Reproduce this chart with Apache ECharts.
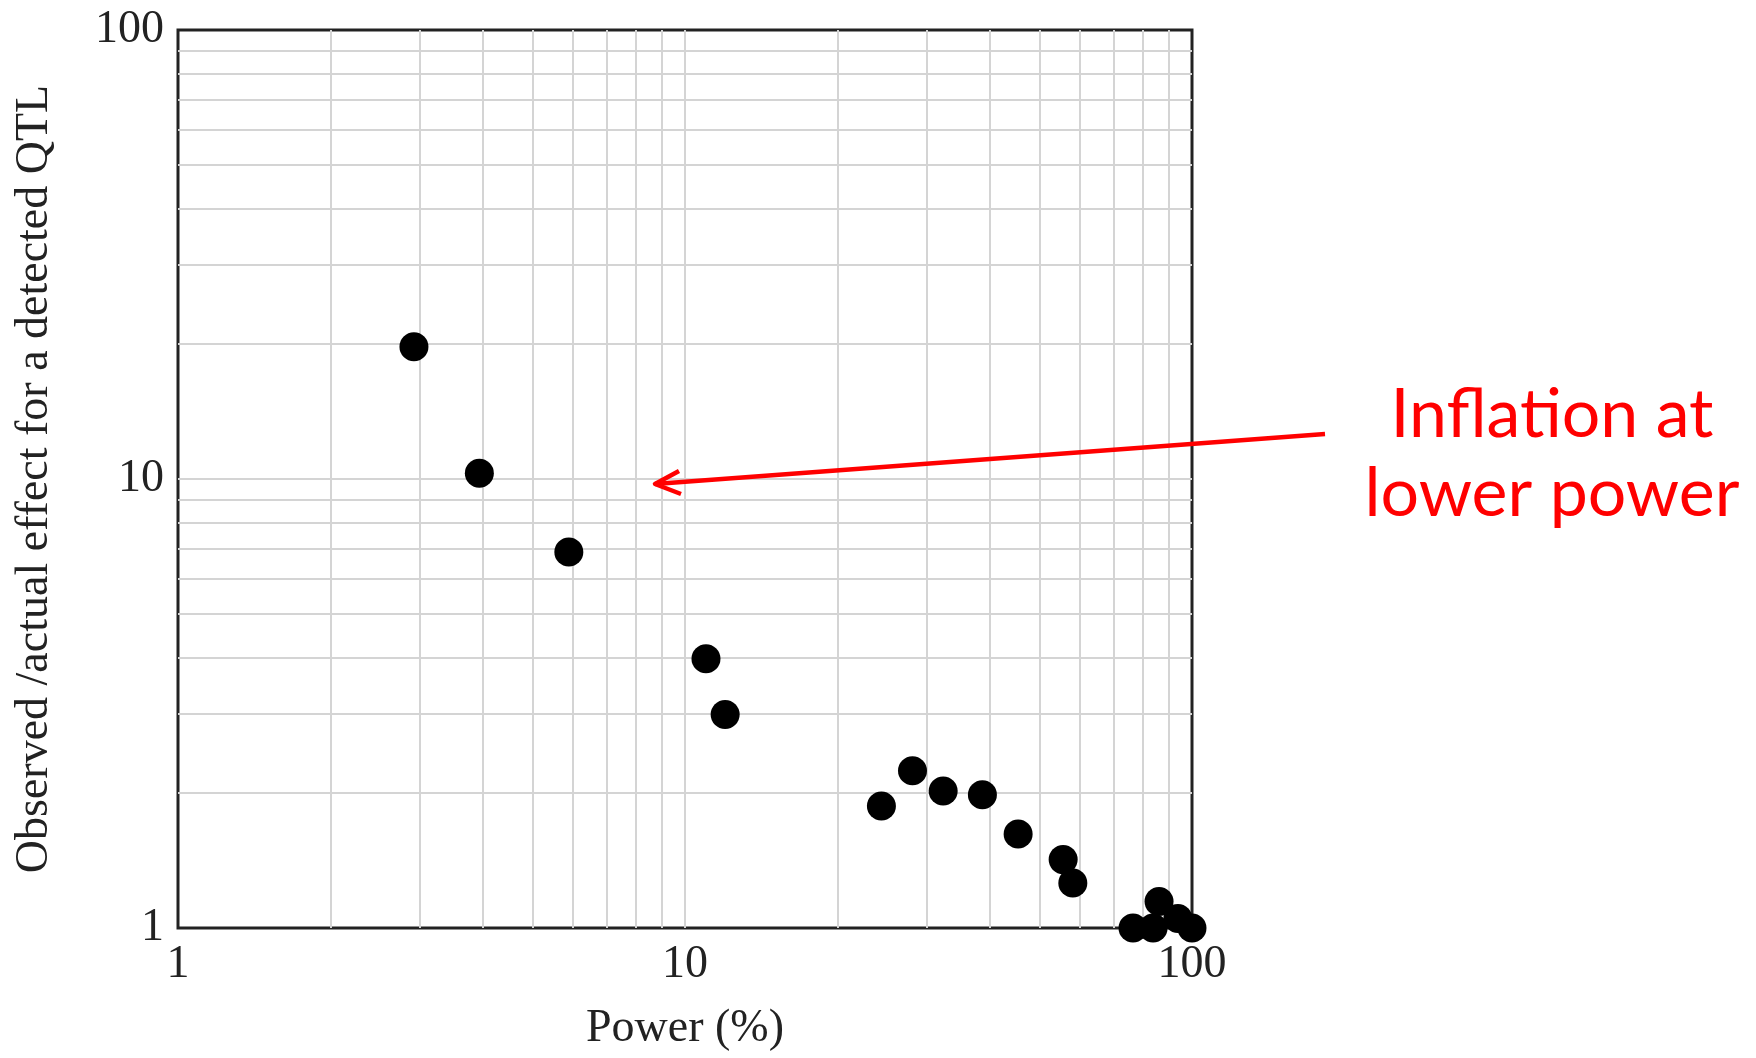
<!DOCTYPE html>
<html lang="en">
<head>
    <meta charset="UTF-8">
    <title>QTL effect inflation</title>
    <script src="https://cdn.jsdelivr.net/npm/echarts@6/dist/echarts.min.js"></script>
    <style>
      html, body { margin: 0; padding: 0; background: #fff; }
      #main { width: 1756px; height: 1058px; }
    </style>
</head>
<body>
    <div id="main"></div>
    <script>
      // power (%) of each simulated QTL and its observed/actual effect ratio
      var power = [2.92, 3.93, 5.9, 11, 12, 24.4, 28.1, 32.3, 38.6, 45.4, 55.7, 58.2, 76.5, 83.8, 86.1, 93.8, 100];
      var ratio = [19.7, 10.3, 6.88, 3.98, 2.99, 1.87, 2.24, 2.02, 1.98, 1.62, 1.42, 1.26, 1.0, 1.0, 1.145, 1.05, 1.0];
      // log grid lines (1..9 per decade)
      var gridValues = [2, 3, 4, 5, 6, 7, 8, 9, 10, 20, 30, 40, 50, 60, 70, 80, 90];
      var axisTicks = [1, 10, 100];

      var serif = "Liberation Serif";
      var chartDom = document.getElementById("main");
      var myChart = echarts.init(chartDom);
      var option;

      var points = power.map(function (p, i) {
        return [p, ratio[i]];
      });
      var gridLines = [];
      gridValues.forEach(function (v) {
        gridLines.push({ xAxis: v });
        gridLines.push({ yAxis: v });
      });

      function tickText(v) {
        return axisTicks.indexOf(Math.round(v)) >= 0 ? String(Math.round(v)) : "";
      }

      option = {
        animation: false,
        grid: {
          left: 178,
          top: 30,
          width: 1014,
          height: 898,
          show: true,
          borderColor: "#222",
          borderWidth: 3,
          outerBoundsMode: "none"
        },
        xAxis: {
          type: "log",
          logBase: 10,
          min: 1,
          max: 100,
          name: "Power (%)",
          nameLocation: "middle",
          nameGap: 78,
          nameTextStyle: { fontFamily: serif, fontSize: 46, color: "#222" },
          axisLine: { show: false },
          axisTick: { show: false },
          splitLine: { show: false },
          axisLabel: { fontFamily: serif, fontSize: 46, color: "#222", margin: 14, formatter: tickText }
        },
        yAxis: {
          type: "log",
          logBase: 10,
          min: 1,
          max: 100,
          name: "Observed /actual effect for a detected QTL",
          nameLocation: "middle",
          nameGap: 120,
          nameTextStyle: { fontFamily: serif, fontSize: 46, color: "#222" },
          axisLine: { show: false },
          axisTick: { show: false },
          splitLine: { show: false },
          axisLabel: { fontFamily: serif, fontSize: 46, color: "#222", margin: 14, formatter: tickText }
        },
        series: [
          {
            type: "scatter",
            data: [],
            silent: true,
            z: 1,
            markLine: {
              silent: true,
              symbol: "none",
              animation: false,
              label: { show: false },
              lineStyle: { color: "#d4d4d4", width: 2, type: "solid" },
              data: gridLines
            }
          },
          {
            type: "scatter",
            data: points,
            symbol: "circle",
            symbolSize: 29,
            clip: false,
            z: 5,
            itemStyle: { color: "#000", opacity: 1 }
          }
        ],
        graphic: [
          {
            type: "line",
            shape: { x1: 1325, y1: 434, x2: 655, y2: 484 },
            style: { stroke: "#ff0000", lineWidth: 4.5 },
            z: 10
          },
          {
            type: "polyline",
            shape: { points: [[679, 471], [655, 484], [681, 494]] },
            style: { stroke: "#ff0000", lineWidth: 4.5, fill: null, lineJoin: "round" },
            z: 10
          },
          {
            type: "text",
            x: 1552,
            y: 455,
            style: {
              text: "Inflation at\nlower power",
              fill: "#ff0000",
              font: "68px Lato",
              lineHeight: 79,
              align: "center",
              verticalAlign: "middle"
            },
            z: 10
          }
        ]
      };
      option && myChart.setOption(option);
    </script>
</body>
</html>
